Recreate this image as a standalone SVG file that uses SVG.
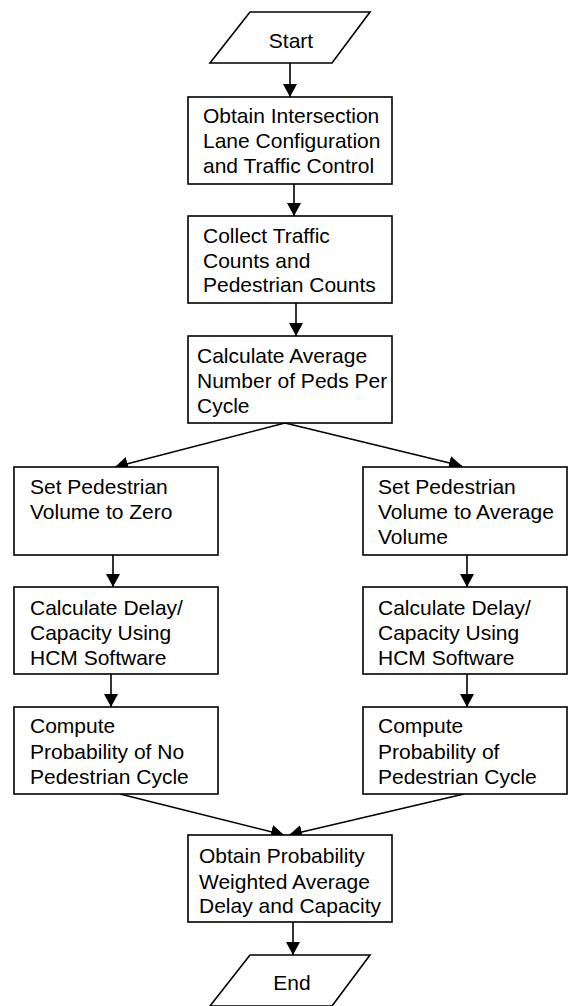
<svg xmlns="http://www.w3.org/2000/svg" width="568" height="1006" viewBox="0 0 568 1006">
<style>
.box{fill:#fff;stroke:#000;stroke-width:1.6}
.t{font-family:"Liberation Sans",Arial,sans-serif;font-size:21px;fill:#000}
.c{fill:none;stroke:#000;stroke-width:1.6}
</style>
<defs>
<marker id="ah" markerUnits="userSpaceOnUse" markerWidth="14" markerHeight="14" viewBox="0 0 14 14" refX="13" refY="7" orient="auto">
<path d="M0,0 L13,7 L0,14 Z" fill="#000"/>
</marker>
</defs>
<rect width="568" height="1006" fill="#fff"/>
<g id="connectors">
<line class="c" x1="290" y1="63" x2="290" y2="97" marker-end="url(#ah)"/>
<line class="c" x1="294" y1="184" x2="294" y2="216" marker-end="url(#ah)"/>
<line class="c" x1="296" y1="303" x2="296" y2="336" marker-end="url(#ah)"/>
<line class="c" x1="285" y1="423" x2="115" y2="467" marker-end="url(#ah)"/>
<line class="c" x1="285" y1="423" x2="462" y2="466" marker-end="url(#ah)"/>
<line class="c" x1="113" y1="555" x2="113" y2="587" marker-end="url(#ah)"/>
<line class="c" x1="111" y1="674" x2="111" y2="707" marker-end="url(#ah)"/>
<line class="c" x1="467" y1="555" x2="467" y2="587" marker-end="url(#ah)"/>
<line class="c" x1="467" y1="674" x2="467" y2="707" marker-end="url(#ah)"/>
<line class="c" x1="120" y1="794" x2="284" y2="835" marker-end="url(#ah)"/>
<line class="c" x1="464" y1="794" x2="289" y2="835" marker-end="url(#ah)"/>
<line class="c" x1="293" y1="922" x2="293" y2="955" marker-end="url(#ah)"/>
</g>
<g id="start">
<polygon class="box" points="250,12 370,12 332,63 210,63"/>
<text class="t" x="291" y="48" text-anchor="middle">Start</text>
</g>
<g id="obtain-config">
<rect class="box" x="188" y="97" width="204" height="87"/>
<text class="t" x="203" y="123">Obtain Intersection</text>
<text class="t" x="203" y="148">Lane Configuration</text>
<text class="t" x="203" y="173">and Traffic Control</text>
</g>
<g id="collect-counts">
<rect class="box" x="188" y="216" width="204" height="87"/>
<text class="t" x="203" y="243">Collect Traffic</text>
<text class="t" x="203" y="268">Counts and</text>
<text class="t" x="203" y="292">Pedestrian Counts</text>
</g>
<g id="calc-average">
<rect class="box" x="188" y="336" width="204" height="87"/>
<text class="t" x="197" y="363">Calculate Average</text>
<text class="t" x="197" y="388">Number of Peds Per</text>
<text class="t" x="197" y="413">Cycle</text>
</g>
<g id="set-zero">
<rect class="box" x="14" y="467" width="204" height="88"/>
<text class="t" x="30" y="494">Set Pedestrian</text>
<text class="t" x="30" y="519">Volume to Zero</text>
</g>
<g id="set-average">
<rect class="box" x="363" y="467" width="204" height="88"/>
<text class="t" x="378" y="494">Set Pedestrian</text>
<text class="t" x="378" y="519">Volume to Average</text>
<text class="t" x="378" y="544">Volume</text>
</g>
<g id="calc-delay-left">
<rect class="box" x="14" y="587" width="204" height="87"/>
<text class="t" x="30" y="615">Calculate Delay/</text>
<text class="t" x="30" y="640">Capacity Using</text>
<text class="t" x="30" y="665">HCM Software</text>
</g>
<g id="calc-delay-right">
<rect class="box" x="363" y="587" width="204" height="87"/>
<text class="t" x="378" y="615">Calculate Delay/</text>
<text class="t" x="378" y="640">Capacity Using</text>
<text class="t" x="378" y="665">HCM Software</text>
</g>
<g id="prob-no-ped">
<rect class="box" x="14" y="707" width="204" height="87"/>
<text class="t" x="30" y="733">Compute</text>
<text class="t" x="30" y="759">Probability of No</text>
<text class="t" x="30" y="784">Pedestrian Cycle</text>
</g>
<g id="prob-ped">
<rect class="box" x="363" y="707" width="204" height="87"/>
<text class="t" x="378" y="733">Compute</text>
<text class="t" x="378" y="759">Probability of</text>
<text class="t" x="378" y="784">Pedestrian Cycle</text>
</g>
<g id="weighted-average">
<rect class="box" x="188" y="835" width="204" height="87"/>
<text class="t" x="199" y="863">Obtain Probability</text>
<text class="t" x="199" y="889">Weighted Average</text>
<text class="t" x="199" y="913">Delay and Capacity</text>
</g>
<g id="end">
<polygon class="box" points="250,955 370,955 332,1006 210,1006"/>
<text class="t" x="292" y="990" text-anchor="middle">End</text>
</g>
</svg>
